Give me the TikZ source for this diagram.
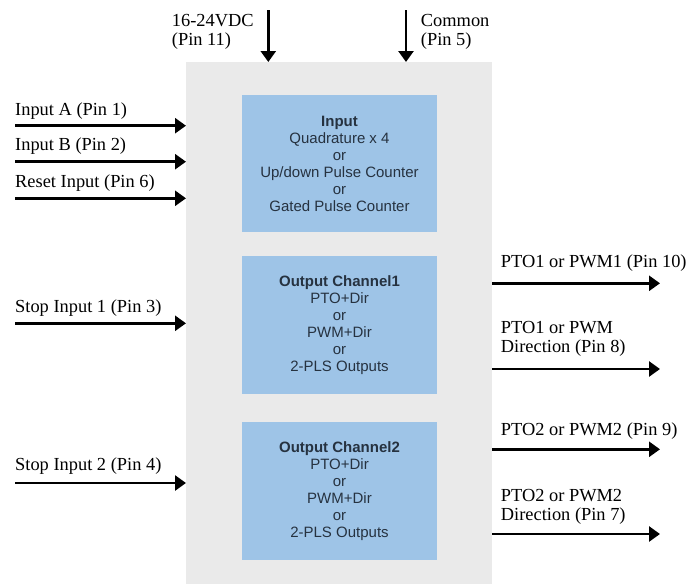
\documentclass[tikz,border=0pt]{standalone}
\usepackage{fontspec}
\setmainfont{Liberation Serif}
\newfontfamily\boxfont{Liberation Sans}
\usetikzlibrary{arrows.meta}
\definecolor{panelgray}{RGB}{234,234,234}
\definecolor{boxblue}{RGB}{158,196,231}
\definecolor{boxtext}{RGB}{38,50,64}
\begin{document}
\begin{tikzpicture}[x=1pt,y=-1pt,
  arr/.style={line width=2.6pt,-{Triangle[length=11pt,width=15pt]}},
  lbl/.style={font=\fontsize{18.4}{19.6}\selectfont, inner sep=0pt, anchor=base west},
  blk/.style={fill=boxblue, draw=none, minimum width=195pt, inner sep=0pt, align=center,
              text=boxtext, font=\boxfont\fontsize{15}{17}\selectfont},
  panel/.style={fill=panelgray, draw=none, inner sep=0pt}]
\useasboundingbox (0,0) rectangle (699,584);
\node[panel, minimum width=306pt, minimum height=522pt, anchor=north west] (panel) at (186,62) {};

% blocks
\node[blk, minimum height=137pt] (inblk) at (339.5,163.5)
  {\textbf{Input}\\Quadrature x 4\\or\\Up/down Pulse Counter\\or\\Gated Pulse Counter};
\node[blk, minimum height=138pt] (out1) at (339.5,325)
  {\textbf{Output Channel1}\\PTO+Dir\\or\\PWM+Dir\\or\\2-PLS Outputs};
\node[blk, minimum height=138pt] (out2) at (339.5,491)
  {\textbf{Output Channel2}\\PTO+Dir\\or\\PWM+Dir\\or\\2-PLS Outputs};

% top inputs
\node[lbl] (vdcA) at (171.7,26.7) {16-24VDC};
\node[lbl] (vdcB) at (171.7,45.5) {(Pin 11)};
\node[lbl] (comA) at (420.7,26.7) {Common};
\node[lbl] (comB) at (420.7,45.5) {(Pin 5)};
\coordinate (vdcS) at (268.3,10);
\coordinate (comS) at (406,10);
\draw[arr] (vdcS) -- (vdcS |- panel.north);
\draw[arr] (comS) -- (comS |- panel.north);

% left inputs
\node[lbl] (inA) at (15,115) {Input A (Pin 1)};
\node[lbl] (inB) at (15,150.7) {Input B (Pin 2)};
\node[lbl] (rst) at (15,187) {Reset Input (Pin 6)};
\node[lbl] (st1) at (15,312) {Stop Input 1 (Pin 3)};
\node[lbl] (st2) at (15,470) {Stop Input 2 (Pin 4)};
\coordinate (inAS) at (15,125.7);
\coordinate (inBS) at (15,161.7);
\coordinate (rstS) at (15,198.3);
\coordinate (st1S) at (15,323.3);
\coordinate (st2S) at (15,483);
\foreach \c in {inAS,inBS,rstS,st1S,st2S}
  \draw[arr] (\c) -- (\c -| panel.west);

% right outputs
\node[lbl] (p10) at (500.7,267.7) {PTO1 or PWM1 (Pin 10)};
\node[lbl] (p8a) at (500.7,333) {PTO1 or PWM};
\node[lbl] (p8b) at (500.7,352.7) {Direction (Pin 8)};
\node[lbl] (p9) at (500.7,435) {PTO2 or PWM2 (Pin 9)};
\node[lbl] (p7a) at (500.7,501.7) {PTO2 or PWM2};
\node[lbl] (p7b) at (500.7,520) {Direction (Pin 7)};
\coordinate (p10E) at (660,283.3);
\coordinate (p8E) at (660,369);
\coordinate (p9E) at (660,449.3);
\coordinate (p7E) at (660,534);
\foreach \c in {p10E,p8E,p9E,p7E}
  \draw[arr] (\c -| panel.east) -- (\c);
\end{tikzpicture}
\end{document}
